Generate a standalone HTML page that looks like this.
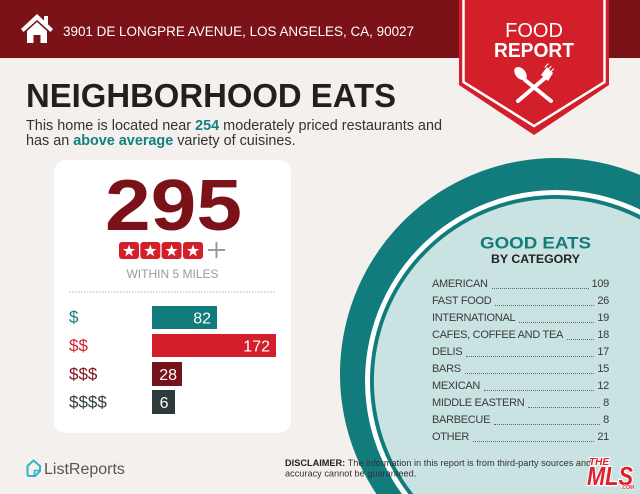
<!DOCTYPE html>
<html><head><meta charset="utf-8">
<style>
*{margin:0;padding:0;box-sizing:border-box}
html,body{width:640px;height:494px;overflow:hidden;background:#f4f0ed;font-family:"Liberation Sans",sans-serif}
.abs{position:absolute}
svg{display:block}
#list{position:absolute;left:432px;top:276px;width:177px;font-size:11px;color:#3a3a3a;letter-spacing:-0.3px}
#list .r{display:flex;align-items:flex-end;height:17px;line-height:17px;white-space:nowrap}
#list .f{flex:1;border-bottom:1px dotted #666;margin:0 3px 4px 4px;height:1px}
</style></head><body>
<svg class="abs" style="left:0;top:0" width="640" height="494" viewBox="0 0 640 494">
<rect width="640" height="58" fill="#7b1218"/>
<path d="M640,175 A216,216 0 0 0 376.4,494 L640,494 Z" fill="#127b7b"/>
<path d="M640,209.5 A191,191 0 0 0 402,494 L640,494 Z" fill="#ffffff"/>
<path d="M640,215 A186,186 0 0 0 408.3,494 L640,494 Z" fill="#127b7b"/>
<path d="M640,219.5 A182,182 0 0 0 413.3,494 L640,494 Z" fill="#c8e3e1"/>
<polygon points="459,0 609,0 609,85 534,135 459,85" fill="#d31f2a"/>
<polyline points="463.5,0 463.5,82 534,126 604.5,82 604.5,0" fill="none" stroke="#fff" stroke-width="2.5"/>
<g fill="#fff">
<polygon points="37,14 53,29 50.5,32 37,20 23.5,32 21,29"/>
<rect x="44" y="16" width="4" height="9"/>
<polygon points="27,31 37,22 47,31 47,43 40.5,43 40.5,35 33.5,35 33.5,43 27,43"/>
</g>
<text x="63" y="36" font-size="13.4" fill="#fff" textLength="351" lengthAdjust="spacingAndGlyphs">3901 DE LONGPRE AVENUE, LOS ANGELES, CA, 90027</text>
<text x="534" y="37" font-size="20" fill="#fff" text-anchor="middle">FOOD</text>
<text x="534" y="57" font-size="20" fill="#fff" text-anchor="middle" font-weight="bold" textLength="80" lengthAdjust="spacingAndGlyphs">REPORT</text>
<g stroke="#fff" stroke-linecap="round" fill="#fff">
<line x1="525" y1="80" x2="551" y2="101" stroke-width="4"/>
<ellipse cx="520.5" cy="73.5" rx="5" ry="7.5" transform="rotate(-42 520.5 73.5)" stroke="none"/>
<line x1="545" y1="78" x2="518" y2="101" stroke-width="4"/>
<polygon points="541,75 547,67 553,73 548,81" stroke="none"/>
<line x1="545" y1="67" x2="548" y2="64" stroke-width="1.2"/>
<line x1="548" y1="69.5" x2="551" y2="66.5" stroke-width="1.2"/>
<line x1="550.5" y1="72" x2="553.5" y2="69" stroke-width="1.2"/>
</g>
<text x="26" y="107" font-size="33" font-weight="bold" fill="#231f20" textLength="370" lengthAdjust="spacingAndGlyphs">NEIGHBORHOOD EATS</text>
<text x="26" y="130" font-size="14.4" fill="#333" textLength="416" lengthAdjust="spacingAndGlyphs">This home is located near <tspan font-weight="bold" fill="#138080">254</tspan> moderately priced restaurants and</text>
<text x="26" y="145" font-size="14.4" fill="#333">has an <tspan font-weight="bold" fill="#138080">above average</tspan> variety of cuisines.</text>
<rect x="54" y="160" width="237" height="273" rx="12" fill="#fff"/>
<text x="173.5" y="230" font-size="72" font-weight="bold" fill="#7b1219" text-anchor="middle" textLength="137" lengthAdjust="spacingAndGlyphs">295</text>
<g>
<rect x="119" y="242" width="20" height="17" rx="3" fill="#d31f2a"/>
<rect x="140.3" y="242" width="20" height="17" rx="3" fill="#d31f2a"/>
<rect x="161.6" y="242" width="20" height="17" rx="3" fill="#d31f2a"/>
<rect x="183" y="242" width="20" height="17" rx="3" fill="#d31f2a"/>
<g fill="#fff">
<polygon transform="translate(129,251)" points="0,-6.5 1.53,-2.1 6.18,-2.01 2.47,0.8 3.82,5.26 0,2.6 -3.82,5.26 -2.47,0.8 -6.18,-2.01 -1.53,-2.1"/>
<polygon transform="translate(150.3,251)" points="0,-6.5 1.53,-2.1 6.18,-2.01 2.47,0.8 3.82,5.26 0,2.6 -3.82,5.26 -2.47,0.8 -6.18,-2.01 -1.53,-2.1"/>
<polygon transform="translate(171.6,251)" points="0,-6.5 1.53,-2.1 6.18,-2.01 2.47,0.8 3.82,5.26 0,2.6 -3.82,5.26 -2.47,0.8 -6.18,-2.01 -1.53,-2.1"/>
<polygon transform="translate(193,251)" points="0,-6.5 1.53,-2.1 6.18,-2.01 2.47,0.8 3.82,5.26 0,2.6 -3.82,5.26 -2.47,0.8 -6.18,-2.01 -1.53,-2.1"/>
</g>
<line x1="208" y1="250" x2="225" y2="250" stroke="#9a9a9a" stroke-width="2"/>
<line x1="216.5" y1="242" x2="216.5" y2="258" stroke="#9a9a9a" stroke-width="2"/>
</g>
<text x="172.5" y="278" font-size="12" fill="#9b9b9b" text-anchor="middle">WITHIN 5 MILES</text>
<line x1="69" y1="292" x2="276" y2="292" stroke="#b5b5b5" stroke-width="1" stroke-dasharray="1.5 1.5"/>
<text x="69" y="322.5" font-size="17" fill="#137a7a">$</text>
<text x="69" y="351" font-size="17" fill="#d3202a">$$</text>
<text x="69" y="379.5" font-size="17" fill="#7b1219">$$$</text>
<text x="69" y="407.5" font-size="17" fill="#2f3d3d">$$$$</text>
<rect x="152" y="306" width="65" height="23" fill="#127b7b"/>
<rect x="152" y="334" width="124" height="23" fill="#d21f2b"/>
<rect x="152" y="362" width="30" height="24" fill="#76121a"/>
<rect x="152" y="390" width="23" height="24" fill="#2d3b3b"/>
<g font-size="16" fill="#fff" text-anchor="end">
<text x="211" y="323.5">82</text>
<text x="270" y="351.5">172</text>
<text x="177" y="380">28</text>
<text x="168.5" y="408">6</text>
</g>
<text x="535.5" y="248.5" font-size="17" font-weight="bold" fill="#127b7b" text-anchor="middle" textLength="111" lengthAdjust="spacingAndGlyphs">GOOD EATS</text>
<text x="535.5" y="263" font-size="12" font-weight="bold" fill="#222" text-anchor="middle" textLength="89" lengthAdjust="spacingAndGlyphs">BY CATEGORY</text>
<path d="M27.5,466 L33.5,460.5 L40,466 L40,471 L35,476 L29.5,476 Q27.5,476 27.5,474 Z" fill="none" stroke="#2db6c6" stroke-width="2" stroke-linejoin="round"/>
<path d="M34.5,475.5 L34.5,470.5 L39.5,470.5" fill="none" stroke="#2db6c6" stroke-width="1.6"/>
<text x="44" y="474" font-size="16" fill="#555">ListReports</text>
<text x="285" y="466" font-size="9.2" fill="#333"><tspan font-weight="bold" fill="#222">DISCLAIMER:</tspan> The information in this report is from third-party sources and</text>
<text x="285" y="476.5" font-size="9.2" fill="#333">accuracy cannot be guaranteed.</text>
<g font-weight="bold" font-style="italic" fill="#e0202b" stroke="#fff" paint-order="stroke" stroke-linejoin="round">
<text x="589" y="465" font-size="10" stroke-width="2">THE</text>
<text x="587" y="485" font-size="26" stroke-width="2.5" textLength="46" lengthAdjust="spacingAndGlyphs">MLS</text>
<text x="621" y="489" font-size="5" stroke-width="1">.COM</text>
</g>
</svg>
<div id="list">
<div class="r"><span>AMERICAN</span><span class="f"></span><span>109</span></div>
<div class="r"><span>FAST FOOD</span><span class="f"></span><span>26</span></div>
<div class="r"><span>INTERNATIONAL</span><span class="f"></span><span>19</span></div>
<div class="r"><span>CAFES, COFFEE AND TEA</span><span class="f"></span><span>18</span></div>
<div class="r"><span>DELIS</span><span class="f"></span><span>17</span></div>
<div class="r"><span>BARS</span><span class="f"></span><span>15</span></div>
<div class="r"><span>MEXICAN</span><span class="f"></span><span>12</span></div>
<div class="r"><span>MIDDLE EASTERN</span><span class="f"></span><span>8</span></div>
<div class="r"><span>BARBECUE</span><span class="f"></span><span>8</span></div>
<div class="r"><span>OTHER</span><span class="f"></span><span>21</span></div>
</div>
</body></html>
